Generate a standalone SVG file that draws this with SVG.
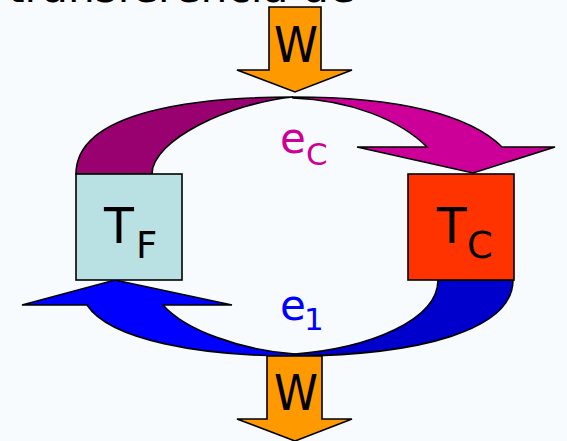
<svg xmlns="http://www.w3.org/2000/svg" width="567" height="441" viewBox="0 0 567 441">
<style>
.s{stroke:#000;stroke-width:1.6;stroke-linejoin:miter}
.t{font-family:"DejaVu Sans","Liberation Sans",sans-serif;fill:#000}
.w{fill:#FF9900}
</style>
<rect width="567" height="441" fill="#F8FBFE"/>
<text class="t" x="8" y="2" font-size="40" textLength="347" lengthAdjust="spacingAndGlyphs">transferencia de</text>
<g id="connectors">
  <g id="ec-arrow">
    <path class="s" fill="#990070" d="M76,174 C76,110 200,97 293,97 C230,103 152,140 152,174 Z"/>
    <path class="s" fill="#CC0099" d="M293,97 C400,97 470,115 502,147 L555,147 L473,173 L357,147 L427,147 C400,120 350,100 293,98 Z"/>
    <text x="280" y="153" font-family="DejaVu Sans, sans-serif" font-size="42" fill="#CC0099">e<tspan x="306" y="165" font-size="31">C</tspan></text>
  </g>
  <g id="e1-arrow">
    <path class="s" fill="#0000CC" d="M513,280 C513,330 420,355 295,356 L295,354 C370,348 438,320 438,280 Z"/>
    <path class="s" fill="#0000FF" d="M295,356 C200,356 110,340 87,305 L22,305 L115,280 L232,305 L163,305 C185,330 240,350 295,354 Z"/>
    <text x="280" y="320" font-family="DejaVu Sans, sans-serif" font-size="42" fill="#0000FF">e<tspan x="304" y="330" font-size="31">1</tspan></text>
  </g>
  <g id="w-in">
    <polygon class="s w" points="269,7 321,7 321,70 352,70 295,92 237,70 269,70"/>
    <text class="t" x="296" y="62" font-size="50" text-anchor="middle" textLength="44" lengthAdjust="spacingAndGlyphs">W</text>
  </g>
  <g id="w-out">
    <polygon class="s w" points="267,356 322,356 322,419 352,419 295,441 237,419 267,419"/>
    <text class="t" x="296" y="410" font-size="50" text-anchor="middle" textLength="44" lengthAdjust="spacingAndGlyphs">W</text>
  </g>
</g>
<g id="node-TF">
  <rect class="s" x="76" y="174" width="106" height="106" fill="#B9E1E4"/>
  <text class="t" x="104" y="243" font-size="49">T<tspan x="136" y="258" font-size="37">F</tspan></text>
</g>
<g id="node-TC">
  <rect class="s" x="408" y="174" width="106" height="106" fill="#FF3300"/>
  <text class="t" x="437" y="243" font-size="49">T<tspan x="467" y="258" font-size="37">C</tspan></text>
</g>
</svg>
